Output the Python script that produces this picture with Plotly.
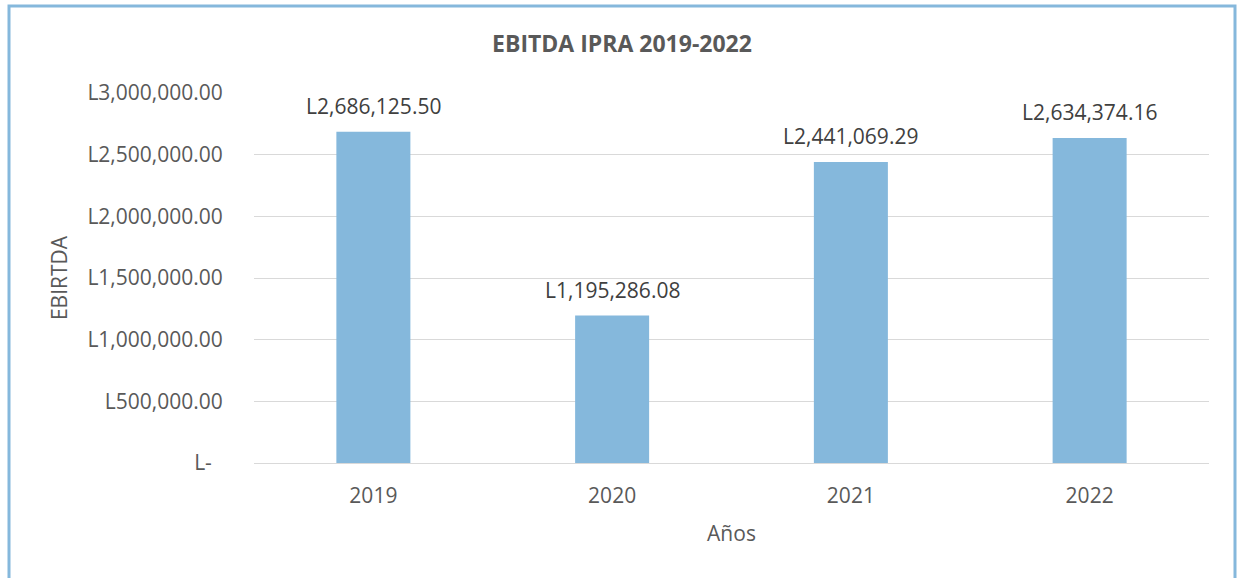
import plotly.graph_objects as go

years = ["2019", "2020", "2021", "2022"]
ebitda = [2686125.50, 1195286.08, 2441069.29, 2634374.16]
tick_vals = [0, 500000, 1000000, 1500000, 2000000, 2500000, 3000000]
tick_text = ["L-\u00a0\u00a0", "L500,000.00", "L1,000,000.00", "L1,500,000.00",
             "L2,000,000.00", "L2,500,000.00", "L3,000,000.00"]

def fmt(v):
    return "L{:,.2f}".format(v)

font_family = "Open Sans, Liberation Sans, sans-serif"
grey = "#595959"

fig = go.Figure(go.Bar(
    x=years, y=ebitda,
    marker=dict(color="#85b8dc", line=dict(width=0)),
    width=0.31,
    hoverinfo="x+y",
))

# data labels: category index positions on the category axis
for i, v in enumerate(ebitda):
    fig.add_annotation(x=i, y=v, xref="x", yref="y", text=fmt(v),
                       showarrow=False, yanchor="middle", yshift=26,
                       font=dict(size=21, color="#404040", family=font_family))

W, H = 1238, 578
l, r, t, b = 254, 29, 93, 115
pw, ph = W - l - r, H - t - b

def px_x(x):
    return (x - l) / pw

def px_y(y):
    return (H - b - y) / ph

fig.add_shape(type="rect", xref="paper", yref="paper",
              x0=px_x(9), x1=px_x(1235), y0=px_y(600), y1=px_y(6),
              line=dict(color="#85b8dc", width=3), fillcolor="rgba(0,0,0,0)",
              layer="below")

fig.update_layout(
    width=W, height=H,
    margin=dict(l=l, r=r, t=t, b=b),
    paper_bgcolor="white", plot_bgcolor="white",
    font=dict(family=font_family, color=grey),
    title=dict(text="<b>EBITDA IPRA 2019-2022</b>", x=px_x(622), xanchor="center",
               y=1 - 43.5 / H, yanchor="middle", xref="paper",
               font=dict(size=23, color=grey, family=font_family)),
    bargap=0.69,
    showlegend=False,
    xaxis=dict(
        type="category",
        range=[-0.5, len(years) - 0.5],
        title=dict(text="Años", font=dict(size=21, color=grey), standoff=18),
        tickfont=dict(size=21, color=grey),
        showline=True, linecolor="#d9d9d9", linewidth=1,
        ticks="outside", tickcolor="white", ticklen=14,
    ),
    yaxis=dict(
        title=dict(text="EBIRTDA", font=dict(size=21, color=grey), standoff=14),
        range=[0, 3000000],
        tickvals=tick_vals, ticktext=tick_text,
        tickfont=dict(size=21, color=grey),
        showgrid=True, gridcolor="#d9d9d9", gridwidth=1,
        zeroline=False, ticks="outside", tickcolor="white", ticklen=26,
    ),
)

fig.write_html("out.html", config={"displayModeBar": False},
               post_script="document.body.style.margin='0';document.body.style.overflow='hidden';")
